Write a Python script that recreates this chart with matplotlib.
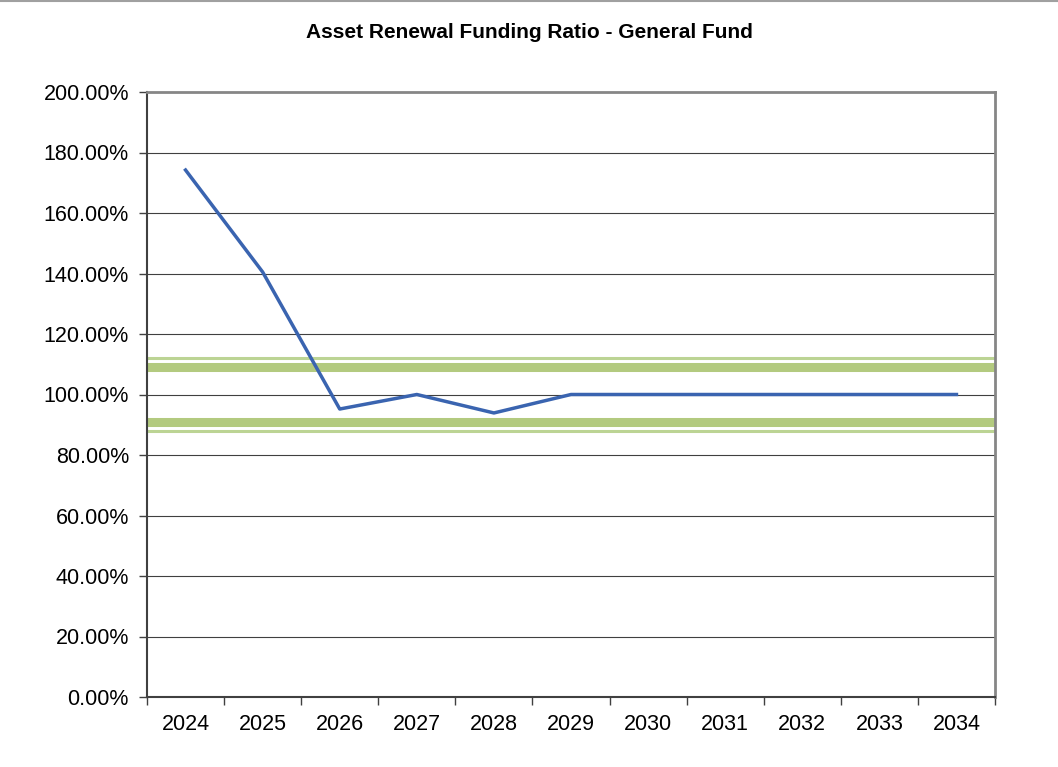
import matplotlib.pyplot as plt
import numpy as np
from matplotlib.ticker import FixedLocator, FuncFormatter

plt.rcParams['font.family'] = ['Liberation Sans', 'DejaVu Sans']

# Data
years = ['2024', '2025', '2026', '2027', '2028', '2029', '2030', '2031', '2032', '2033', '2034']
ratio = [174.2, 140.5, 95.2, 100.0, 93.9, 100.0, 100.0, 100.0, 100.0, 100.0, 100.0]
band_thick = [109.0, 91.0]
band_thin = [112.2, 88.0]

fig = plt.figure(figsize=(10.58, 7.67), dpi=100)
ax = fig.add_axes([147/1058, 1-697/767, (995-147)/1058, (697-92)/767])

x = np.arange(len(years))

# gridlines
for v in range(20, 200, 20):
    ax.axhline(v, color='#404040', lw=0.8, zorder=1)

# green target bands
for v in band_thin:
    ax.axhline(v, color='#bcd494', lw=2.2, zorder=2)
for v in band_thick:
    ax.axhline(v, color='#b3ca7f', lw=6.5, zorder=2)

ax.plot(x, ratio, color='#3a64b0', lw=2.5, zorder=3)

ax.set_xlim(-0.5, len(years) - 0.5)
ax.set_ylim(0, 200)
ax.set_yticks(np.arange(0, 201, 20))
ax.yaxis.set_major_formatter(FuncFormatter(lambda v, p: '%.2f%%' % v))

ax.set_xticks(x)
ax.set_xticklabels(years)
ax.xaxis.set_minor_locator(FixedLocator(np.arange(-0.5, len(years), 1)))
ax.tick_params(axis='x', which='major', length=0, pad=12, labelsize=15.5)
ax.tick_params(axis='x', which='minor', length=6, width=1, color='#404040', direction='out')
ax.tick_params(axis='y', length=6, width=1, color='#404040', labelsize=15.5, pad=7)

for s in ['left', 'bottom']:
    ax.spines[s].set_color('#404040')
    ax.spines[s].set_linewidth(1.5)
for s in ['top', 'right']:
    ax.spines[s].set_color('#868686')
    ax.spines[s].set_linewidth(2)

fig.text(0.5, 1-33/767, 'Asset Renewal Funding Ratio - General Fund', ha='center', va='center',
         fontsize=15, fontweight='bold')

# thin grey frame at top of figure
fig.add_artist(plt.Line2D([0, 1], [0.999, 0.999], color='#a0a0a0', lw=1.5, transform=fig.transFigure))

fig.savefig('out.png', dpi=100)
